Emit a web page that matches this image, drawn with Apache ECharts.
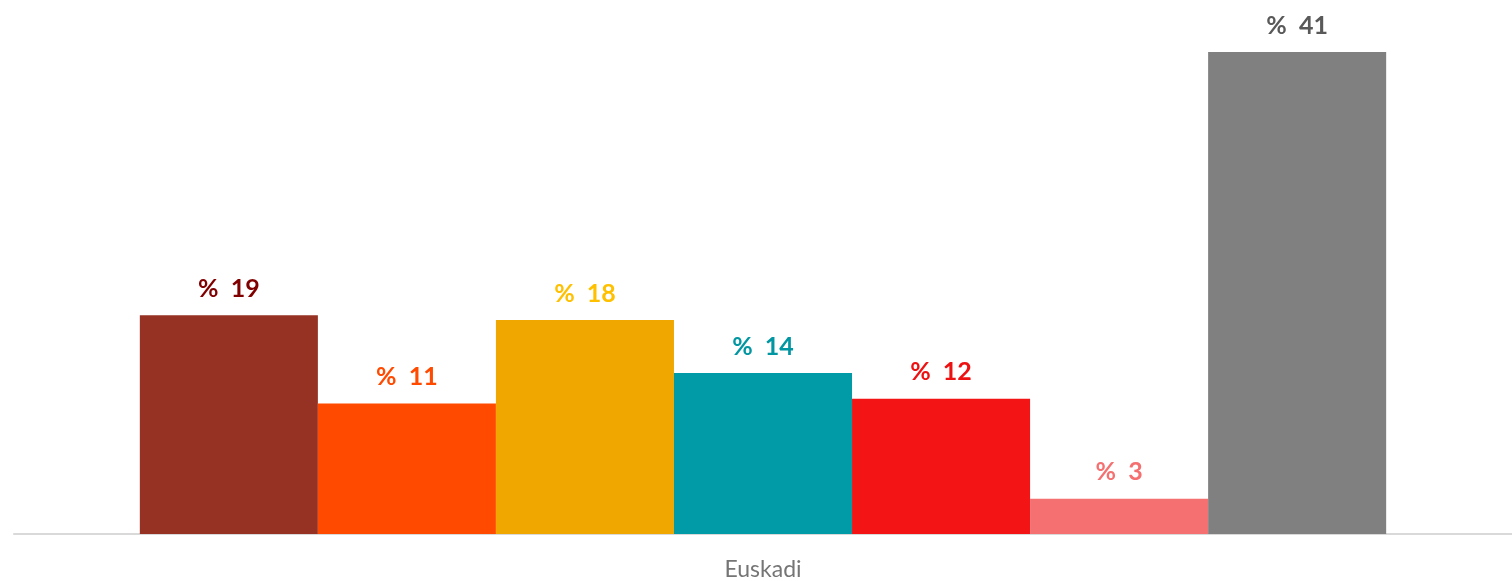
<!DOCTYPE html>
<html>
<head>
<meta charset="utf-8">
<script src="https://cdn.jsdelivr.net/npm/echarts@6/dist/echarts.min.js"></script>
<style>
  html, body { margin: 0; padding: 0; background: #fff; }
  #chart { width: 1512px; height: 581px; }
</style>
</head>
<body>
<div id="chart"></div>
<script>
// datos
var categories = ['Euskadi']
var seriesNames = ['s1', 's2', 's3', 's4', 's5', 's6', 's7']
var values = [18.6, 11.1, 18.2, 13.7, 11.5, 3.0, 41]
var barColors = ['#963224', '#FF4A00', '#F0A800', '#009BA6', '#F31515', '#F57070', '#808080']
var labelColors = ['#800000', '#FF4A00', '#FFC000', '#0096A2', '#EE1111', '#F57070', '#595959']

var chart = echarts.init(document.getElementById('chart'))

var series = seriesNames.map(function (name, i) {
  return {
    name: name,
    type: 'bar',
    data: [values[i]],
    barGap: '0%',
    barCategoryGap: '16.8%',
    itemStyle: { color: barColors[i] },
    label: {
      show: true,
      position: 'top',
      distance: 14,
      color: labelColors[i],
      fontFamily: 'Lato',
      fontWeight: 'bold',
      fontSize: 25,
      formatter: function (p) {
        return '%  ' + Math.round(p.value)
      }
    }
  }
})

chart.setOption({
  animation: false,
  grid: {
    left: 14,
    right: 0,
    top: 5,
    bottom: 45
  },
  xAxis: {
    type: 'category',
    data: categories,
    axisTick: { show: false },
    axisLine: { lineStyle: { color: '#d9d9d9', width: 2 } },
    axisLabel: {
      color: '#757575',
      fontFamily: 'Lato',
      fontSize: 23,
      margin: 24
    }
  },
  yAxis: {
    type: 'value',
    min: 0,
    max: 45,
    show: false,
    splitLine: { show: false }
  },
  series: series
})
</script>
</body>
</html>
